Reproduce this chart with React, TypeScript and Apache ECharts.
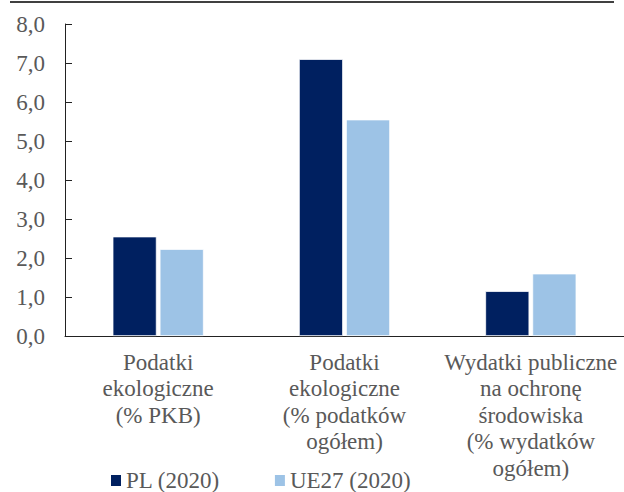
import React, { useEffect, useRef } from "react";
import * as echarts from "echarts";

const categories = [
  "Podatki\nekologiczne\n(% PKB)",
  "Podatki\nekologiczne\n(% podatków\nogółem)",
  "Wydatki publiczne\nna ochronę\nśrodowiska\n(% wydatków\nogółem)",
];
const seriesNames = ["PL (2020)", "UE27 (2020)"];
const plValues = [2.55, 7.1, 1.15];
const ueValues = [2.23, 5.55, 1.6];

const FONT = "'Liberation Serif', 'DejaVu Serif', serif";
const TEXT = "#595959";

export default function App() {
  const ref = useRef<HTMLDivElement>(null);
  useEffect(() => {
    if (!ref.current) return;
    const chart = echarts.init(ref.current, undefined, { renderer: "svg" });
    chart.setOption({
      animation: false,
      backgroundColor: "#fff",
      textStyle: { fontFamily: FONT },
      graphic: [
        {
          type: "line",
          shape: { x1: 10, y1: 2, x2: 614, y2: 2 },
          style: { stroke: "#000", lineWidth: 1.5 },
        },
      ],
      legend: {
        left: 109,
        top: 469,
        padding: 0,
        itemWidth: 12,
        itemHeight: 13,
        itemGap: 53,
        icon: "rect",
        textStyle: { fontFamily: FONT, fontSize: 23, lineHeight: 23, color: TEXT, padding: [0, 0, 0, -1] },
        data: seriesNames,
      },
      grid: { left: 65, top: 24, width: 564, bottom: 156, containLabel: false },
      xAxis: {
        type: "category",
        data: categories,
        axisLine: { lineStyle: { color: "#222", width: 1 } },
        axisTick: { inside: true, length: 6, lineStyle: { color: "#222" } },
        axisLabel: {
          interval: 0,
          margin: 13,
          fontFamily: FONT,
          fontSize: 23,
          lineHeight: 26.5,
          color: TEXT,
        },
      },
      yAxis: {
        type: "value",
        min: 0,
        max: 8,
        interval: 1,
        splitLine: { show: false },
        axisLine: { show: true, lineStyle: { color: "#222", width: 1 } },
        axisTick: { show: true, inside: true, length: 7, lineStyle: { color: "#222" } },
        axisLabel: {
          margin: 20,
          fontFamily: FONT,
          fontSize: 23,
          color: TEXT,
          formatter: (v: number) => v.toFixed(1).replace(".", ","),
        },
      },
      series: [
        {
          name: seriesNames[0],
          type: "bar",
          data: plValues,
          barWidth: 44,
          barGap: "7%",
          itemStyle: { color: "#002060", borderColor: "#fff", borderWidth: 0.75 },
        },
        {
          name: seriesNames[1],
          type: "bar",
          data: ueValues,
          barWidth: 44,
          barGap: "7%",
          itemStyle: { color: "#9DC3E6", borderColor: "#fff", borderWidth: 0.75 },
        },
      ],
    });
    return () => chart.dispose();
  }, []);
  return (
    <div
      ref={ref}
      style={{ position: "absolute", left: 0, top: 0, width: 624, height: 492 }}
    />
  );
}
